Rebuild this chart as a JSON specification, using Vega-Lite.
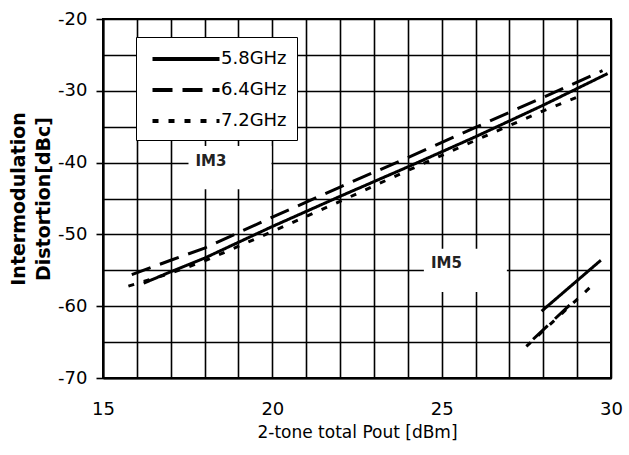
{
  "$schema": "https://vega.github.io/schema/vega-lite/v6.json",
  "width": 508,
  "height": 359,
  "autosize": "none",
  "padding": {"left": 103, "top": 19, "right": 18, "bottom": 77},
  "background": "white",
  "config": {
    "view": {"stroke": "black", "strokeWidth": 2},
    "axis": {
      "gridColor": "black", "gridWidth": 1.6, "gridOpacity": 1,
      "domainColor": "black", "domainWidth": 2,
      "tickColor": "black", "tickWidth": 1.6,
      "labelColor": "black", "titleColor": "black",
      "labelFont": "DejaVu Sans", "titleFont": "DejaVu Sans",
      "labelFontSize": 18, "titleFontSize": 17
    },
    "legend": {
      "labelFont": "DejaVu Sans", "labelFontSize": 18, "labelColor": "black"
    }
  },
  "datasets": {
    "curves": [
      {"freq": "5.8GHz", "product": "IM3", "pout": 16.2, "imd": -56.8},
      {"freq": "5.8GHz", "product": "IM3", "pout": 17, "imd": -55.2},
      {"freq": "5.8GHz", "product": "IM3", "pout": 18, "imd": -53.3},
      {"freq": "5.8GHz", "product": "IM3", "pout": 20, "imd": -48.9},
      {"freq": "5.8GHz", "product": "IM3", "pout": 22, "imd": -44.7},
      {"freq": "5.8GHz", "product": "IM3", "pout": 24, "imd": -40.6},
      {"freq": "5.8GHz", "product": "IM3", "pout": 26, "imd": -36.4},
      {"freq": "5.8GHz", "product": "IM3", "pout": 28, "imd": -32.0},
      {"freq": "5.8GHz", "product": "IM3", "pout": 29.9, "imd": -27.6},
      {"freq": "6.4GHz", "product": "IM3", "pout": 15.85, "imd": -55.6},
      {"freq": "6.4GHz", "product": "IM3", "pout": 17, "imd": -53.6},
      {"freq": "6.4GHz", "product": "IM3", "pout": 18, "imd": -51.9},
      {"freq": "6.4GHz", "product": "IM3", "pout": 20, "imd": -47.6},
      {"freq": "6.4GHz", "product": "IM3", "pout": 22, "imd": -43.4},
      {"freq": "6.4GHz", "product": "IM3", "pout": 24, "imd": -39.3},
      {"freq": "6.4GHz", "product": "IM3", "pout": 26, "imd": -35.1},
      {"freq": "6.4GHz", "product": "IM3", "pout": 28, "imd": -30.9},
      {"freq": "6.4GHz", "product": "IM3", "pout": 29.75, "imd": -27.2},
      {"freq": "7.2GHz", "product": "IM3", "pout": 15.75, "imd": -57.2},
      {"freq": "7.2GHz", "product": "IM3", "pout": 17, "imd": -55.4},
      {"freq": "7.2GHz", "product": "IM3", "pout": 18, "imd": -53.7},
      {"freq": "7.2GHz", "product": "IM3", "pout": 20, "imd": -49.6},
      {"freq": "7.2GHz", "product": "IM3", "pout": 22, "imd": -45.4},
      {"freq": "7.2GHz", "product": "IM3", "pout": 24, "imd": -41.1},
      {"freq": "7.2GHz", "product": "IM3", "pout": 26, "imd": -36.9},
      {"freq": "7.2GHz", "product": "IM3", "pout": 28, "imd": -32.8},
      {"freq": "7.2GHz", "product": "IM3", "pout": 29.15, "imd": -30.6},
      {"freq": "5.8GHz", "product": "IM5", "pout": 27.95, "imd": -60.7},
      {"freq": "5.8GHz", "product": "IM5", "pout": 29.7, "imd": -53.6},
      {"freq": "6.4GHz", "product": "IM5", "pout": 27.7, "imd": -64.6},
      {"freq": "6.4GHz", "product": "IM5", "pout": 28.9, "imd": -59.3},
      {"freq": "7.2GHz", "product": "IM5", "pout": 27.5, "imd": -65.6},
      {"freq": "7.2GHz", "product": "IM5", "pout": 29.4, "imd": -57.3}
    ],
    "notes": [
      {"label": "IM3", "pout": 18.75, "imd": -40.7},
      {"label": "IM5", "pout": 25.7, "imd": -55.0}
    ]
  },
  "encoding": {
    "x": {
      "field": "pout", "type": "quantitative",
      "scale": {"domain": [15, 30], "nice": false, "zero": false},
      "axis": {
        "values": [15, 16, 17, 18, 19, 20, 21, 22, 23, 24, 25, 26, 27, 28, 29, 30],
        "labelExpr": "datum.value % 5 === 0 ? datum.label : ''",
        "ticks": false, "labelPadding": 22, "labelFlush": false,
        "title": "2-tone total Pout [dBm]", "titleFontWeight": "normal", "titlePadding": 6
      }
    },
    "y": {
      "field": "imd", "type": "quantitative",
      "scale": {"domain": [-70, -20], "nice": false, "zero": false},
      "axis": {
        "values": [-70, -65, -60, -55, -50, -45, -40, -35, -30, -25, -20],
        "labelExpr": "datum.value % 10 === 0 ? '' + datum.value : ''",
        "tickSize": 7, "tickOpacity": {"expr": "datum.value % 10 === 0 ? 1 : 0"},
        "labelPadding": 9,
        "title": ["Intermodulation", "Distortion[dBc]"],
        "titleFontWeight": "bold", "titleFontSize": 19,
        "titleLineHeight": 25, "titlePadding": 4
      }
    }
  },
  "layer": [
    {
      "data": {"name": "notes"},
      "mark": {"type": "point", "shape": "M-1,-0.52H1V0.52H-1Z", "filled": true, "color": "white", "opacity": 1, "size": 6889, "strokeWidth": 0}
    },
    {
      "data": {"name": "notes"},
      "mark": {"type": "text", "font": "DejaVu Sans", "fontWeight": "bold", "fontSize": 15, "color": "#222", "dx": -19, "dy": -7},
      "encoding": {"text": {"field": "label"}}
    },
    {
      "data": {"name": "curves"},
      "mark": {"type": "line", "color": "black", "strokeWidth": 3},
      "encoding": {
        "strokeDash": {
          "field": "freq", "type": "nominal",
          "scale": {"domain": ["5.8GHz", "6.4GHz", "7.2GHz"], "range": [[1, 0], [20, 10], [6, 10]]},
          "legend": {
            "orient": "none", "legendX": 33, "legendY": 18, "title": null,
            "symbolType": "M-3.35,0H3.35", "symbolSize": 400, "symbolStrokeWidth": 4,
            "symbolStrokeColor": "black", "symbolOffset": 28, "labelOffset": 23,
            "fillColor": "white", "strokeColor": "black", "padding": 10, "rowPadding": 10
          }
        },
        "detail": {"field": "product"},
        "order": {"field": "pout", "type": "quantitative"}
      }
    }
  ]
}
